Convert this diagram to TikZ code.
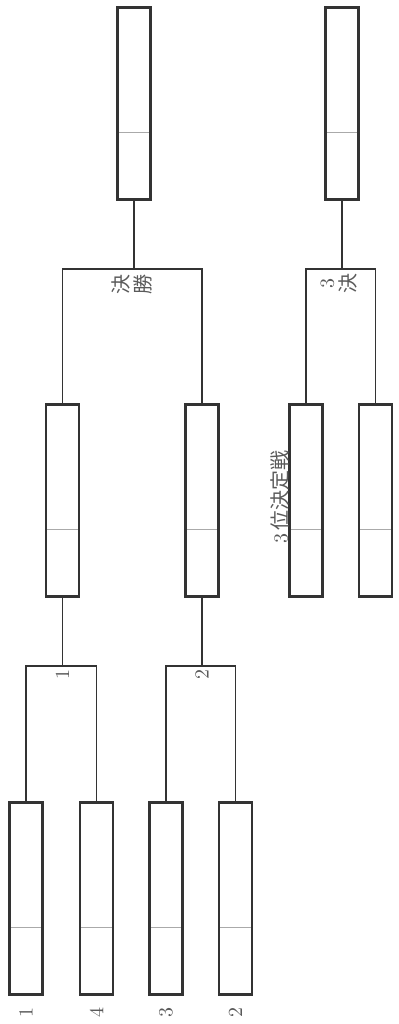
\documentclass[tikz,border=0pt]{standalone}
\usepackage{fontspec}
\newfontfamily\jpfont{Noto Sans CJK JP}
\usepackage{xcolor}
\usetikzlibrary{calc}

\tikzset{
  entry/.style={draw={rgb,255:red,51;green,51;blue,51}, line width=1.4pt, inner sep=0pt,
    minimum width=16.5pt, minimum height=96pt,
    path picture={\draw[divline] ($(path picture bounding box.south west)!0.35!(path picture bounding box.north west)$) -- ($(path picture bounding box.south east)!0.35!(path picture bounding box.north east)$);}},
  divline/.style={color={rgb,255:red,170;green,170;blue,170}, line width=0.5pt},
  conn/.style={color={rgb,255:red,51;green,51;blue,51}, line width=0.8pt},
  lbl/.style={rotate=90, inner sep=0pt, font=\fontsize{10}{11}\selectfont, color={rgb,255:red,90;green,90;blue,90}, align=center}
}

\begin{document}
\begin{tikzpicture}[x=0.5pt,y=0.5pt,yscale=-1,xscale=1]
\useasboundingbox (0,0) rectangle (398,1024);

%Shape: Rectangle [round 1]
\node [entry] (r1a) at (26,898.5) {};
\node [entry] (r1b) at (96.5,898.5) {};
\node [entry] (r1c) at (166,898.5) {};
\node [entry] (r1d) at (235.5,898.5) {};
%Shape: Rectangle [round 2]
\node [entry] (r2a) at (62.5,500.5) {};
\node [entry] (r2b) at (202,500.5) {};
%Shape: Rectangle [third place match]
\node [entry] (tpa) at (306,500.5) {};
\node [entry] (tpb) at (375.5,500.5) {};
%Shape: Rectangle [winners]
\node [entry] (fin) at (134,103.5) {};
\node [entry] (thw) at (342,103.5) {};

%Bracket joints
\coordinate (j1) at (62.5,666);
\coordinate (j2) at (202,666);
\coordinate (jf) at (134,269);
\coordinate (jt) at (342,269);

%Straight Lines [round 1]
\draw [conn] (r1a.north) |- (j1) -| (r1b.north) ;
\draw [conn] (j1) -- (r2a.south) ;
\draw [conn] (r1c.north) |- (j2) -| (r1d.north) ;
\draw [conn] (j2) -- (r2b.south) ;
%Straight Lines [final]
\draw [conn] (r2a.north) |- (jf) -| (r2b.north) ;
\draw [conn] (jf) -- (fin.south) ;
%Straight Lines [third place]
\draw [conn] (tpa.north) |- (jt) -| (tpb.north) ;
\draw [conn] (jt) -- (thw.south) ;

% Text Node
\node [lbl] (s1) at (26,1012) {1};
% Text Node
\node [lbl] (s4) at (96.5,1012) {4};
% Text Node
\node [lbl] (s3) at (166,1012) {3};
% Text Node
\node [lbl] (s2) at (235.5,1012) {2};
% Text Node
\node [lbl] (m1) at (62.5,674) {1};
% Text Node
\node [lbl] (m2) at (202,674) {2};
% Text Node
\node [lbl] (kfin) at (132,284) {\jpfont 決\\\jpfont 勝};
% Text Node
\node [lbl] (kthw) at (339,283) {3\\\jpfont 決};
% Text Node
\node [lbl] (ktp) at (280,497) {3\,{\jpfont 位決定戦}};

\end{tikzpicture}
\end{document}
